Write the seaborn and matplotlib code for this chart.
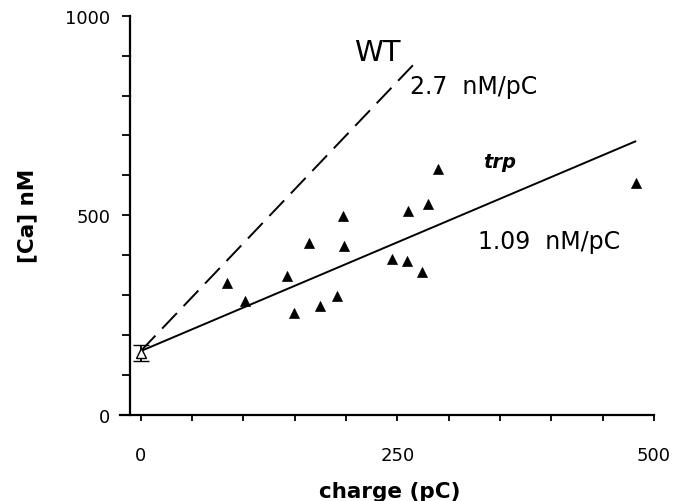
import matplotlib
matplotlib.use("Agg")
import matplotlib.pyplot as plt
import seaborn as sns
import numpy as np
import pandas as pd
from matplotlib.ticker import MultipleLocator

# ---- data ----
trp_charge = [84, 102, 143, 149, 164, 175, 191, 197, 198, 245, 259, 260, 274, 280, 290, 482]
trp_ca = [330, 285, 348, 255, 431, 274, 298, 498, 422, 391, 385, 510, 358, 528, 615, 581]

baseline_charge = [0]
baseline_ca = [155]
baseline_err = [21]

intercept = 160
wt_slope = 2.7
trp_slope = 1.09
wt_range = [0, 269]
trp_range = [0, 482]

x_ticks = [0, 250, 500]
y_ticks = [0, 500, 1000]

sns.set_theme(style="ticks")
plt.rcParams['font.family'] = ['DejaVu Sans']

fig = plt.figure(figsize=(6.88, 5.02), dpi=100)
W, H = 688, 502
ax = fig.add_axes([130 / W, (H - 416) / H, (654 - 130) / W, (416 - 16.7) / H])

# fit lines
wt_x = np.array(wt_range, dtype=float)
trp_x = np.array(trp_range, dtype=float)
lines = pd.DataFrame({
    "x": np.concatenate([wt_x, trp_x]),
    "y": np.concatenate([intercept + wt_slope * wt_x, intercept + trp_slope * trp_x]),
    "g": ["WT"] * 2 + ["trp"] * 2,
})
sns.lineplot(data=lines[lines.g == "WT"], x="x", y="y", ax=ax, color="black",
             lw=1.4, linestyle=(0, (11, 5)), legend=False)
sns.lineplot(data=lines[lines.g == "trp"], x="x", y="y", ax=ax, color="black",
             lw=1.4, legend=False)

# trp data
df = pd.DataFrame({"charge": trp_charge, "ca": trp_ca})
sns.scatterplot(data=df, x="charge", y="ca", ax=ax, marker="^", s=52,
                color="black", edgecolor="black", linewidth=0.5, zorder=5)

# baseline with error bar
ax.errorbar(baseline_charge, baseline_ca, yerr=baseline_err, fmt="^", ms=7,
            mfc="white", mec="black", mew=1.0, ecolor="black", elinewidth=1.3,
            capsize=5.5, capthick=1.6, zorder=6)

ax.set_xlim(-10.4, 500)
ax.set_ylim(0, 1000)
ax.set_xticks(x_ticks)
ax.set_yticks(y_ticks)
ax.xaxis.set_minor_locator(MultipleLocator(50))
ax.yaxis.set_minor_locator(MultipleLocator(100))

for s in ["top", "right"]:
    ax.spines[s].set_visible(False)
for s in ["left", "bottom"]:
    ax.spines[s].set_linewidth(1.6)
    ax.spines[s].set_color("black")
ax.spines["bottom"].set_bounds(-20, 500)
ax.spines["bottom"].set_clip_on(False)

ax.tick_params(axis="y", which="both", direction="out", length=6, width=1.3,
               color="black", pad=8, labelsize=13, labelcolor="black")
ax.tick_params(axis="x", which="both", direction="out", length=4, width=1.3,
               color="black", pad=18, labelsize=13, labelcolor="black")

ax.set_xlabel("charge (pC)", fontsize=15.5, fontweight="bold", color="black")
ax.set_ylabel("[Ca] nM", fontsize=15.5, fontweight="bold", color="black")
ax.xaxis.label.set_verticalalignment("center")
ax.yaxis.label.set_verticalalignment("center")
ax.xaxis.set_label_coords(0.496, -(492 - 416) / 399.3)
ax.yaxis.set_label_coords((27 - 130) / 524, 0.5)

ax.text(230, 909, "WT", fontsize=21, ha="center", va="center", color="black")
ax.text(262.5, 825, "2.7  nM/pC", fontsize=17, ha="left", va="center", color="black")
ax.text(350, 634, "trp", fontsize=14, ha="center", va="center", style="italic",
        fontweight="bold", color="black")
ax.text(329, 437, "1.09  nM/pC", fontsize=17, ha="left", va="center", color="black")

fig.savefig("out.png", dpi=100)
